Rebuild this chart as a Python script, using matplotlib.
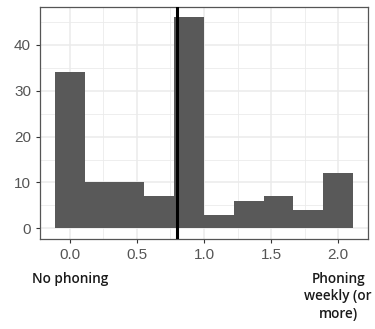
import numpy as np
import matplotlib
matplotlib.use("Agg")
import matplotlib.pyplot as plt

plt.rcParams['font.family'] = ['Liberation Sans', 'DejaVu Sans']

# Data
bin_centers = [0.0, 0.2222, 0.4444, 0.6667, 0.8889, 1.1111, 1.3333, 1.5556, 1.7778, 2.0]
counts = [34, 10, 10, 7, 46, 3, 6, 7, 4, 12]
bin_width = 2.0 / 9
threshold = 0.8
x_ticks = [0.0, 0.5, 1.0, 1.5, 2.0]
x_tick_labels = ["0.0", "0.5", "1.0", "1.5", "2.0"]
y_ticks = [0, 10, 20, 30, 40]
end_labels = [(0.0, "No phoning"), (2.0, "Phoning\nweekly (or\nmore)")]

fig = plt.figure(figsize=(3.75, 3.29), dpi=100)
ax = fig.add_axes([0.107, 0.274, 0.874, 0.705])

ax.bar(bin_centers, counts, width=bin_width, color="#595959", edgecolor="none", zorder=2)
ax.axvline(threshold, color="black", lw=2.2, zorder=3)

ax.set_xlim(-0.2222, 2.2222)
ax.set_ylim(-2.3, 48.3)
ax.set_xticks(x_ticks)
ax.set_xticklabels(x_tick_labels)
ax.set_yticks(y_ticks)
ax.set_xticks([0.25, 0.75, 1.25, 1.75], minor=True)
ax.set_yticks([5, 15, 25, 35, 45], minor=True)
ax.grid(which="major", color="#EBEBEB", lw=1.1, zorder=0)
ax.grid(which="minor", color="#EBEBEB", lw=0.6, zorder=0)
ax.set_axisbelow(True)
ax.tick_params(which="major", length=3, width=0.8, color="#333333",
               labelcolor="#555555", labelsize=11, pad=3.5)
ax.tick_params(which="minor", length=0)
for s in ax.spines.values():
    s.set_color("#555555")
    s.set_linewidth(0.9)

for xv, txt in end_labels:
    ax.text(xv, -0.143, txt, transform=ax.get_xaxis_transform(), ha="center", va="top",
            fontsize=9.8, fontweight="semibold", family="Open Sans", color="#1a1a1a",
            linespacing=1.3, clip_on=False)

fig.savefig("out.png", dpi=100)
